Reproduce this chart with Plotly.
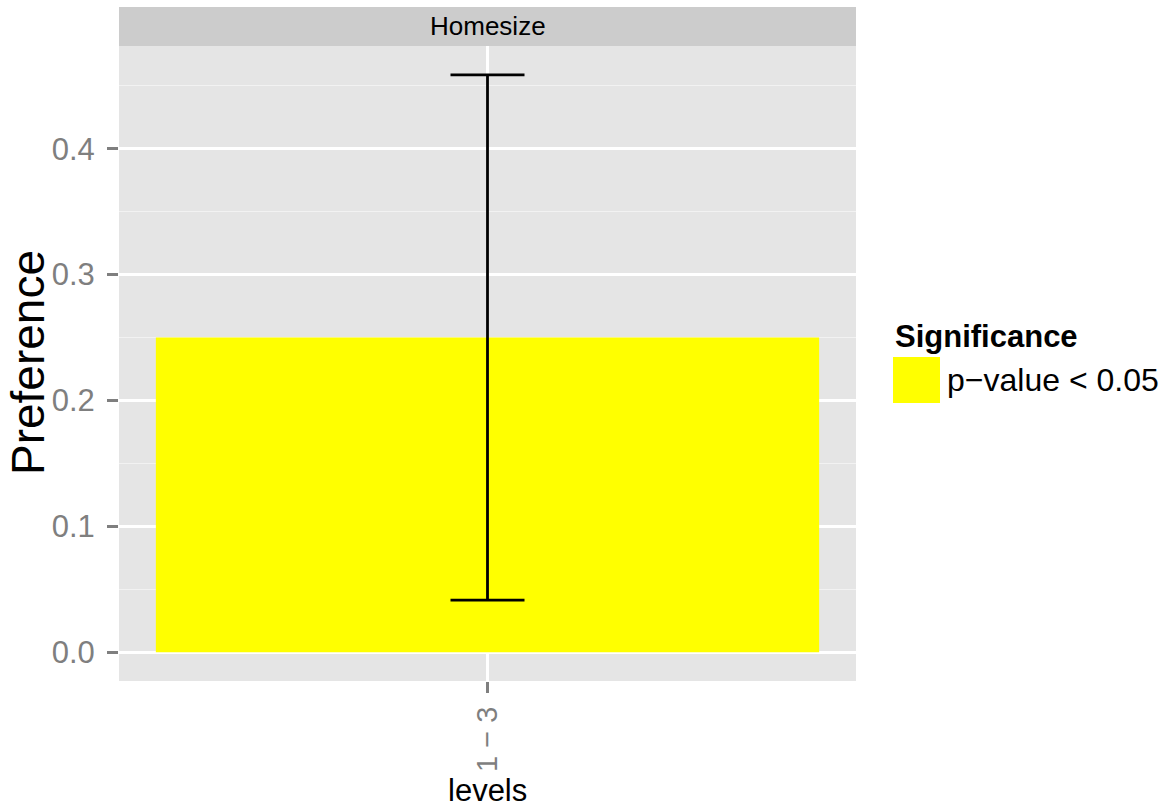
import plotly.graph_objects as go

# Data
levels = ["1 \u2212 3"]
preference = [0.25]
ci_low = [0.0413]
ci_high = [0.4587]
facet = "Homesize"
legend_title = "Significance"
legend_label = "p\u2212value < 0.05"
bar_color = "#FFFF00"

W, H = 1164, 811
L, R, T, B = 119, 856, 46, 681  # panel edges in pixels
FONT = "Liberation Sans, Arial, Helvetica, sans-serif"


def px_x(x):
    return (x - L) / (R - L)


def px_y(y):
    return (B - y) / (B - T)


err_plus = [h - v for h, v in zip(ci_high, preference)]
err_minus = [v - l for v, l in zip(preference, ci_low)]

fig = go.Figure()
fig.add_trace(go.Bar(
    x=levels, y=preference, width=0.9,
    marker=dict(color=bar_color, line=dict(width=0)),
    error_y=dict(type="data", symmetric=False, array=err_plus, arrayminus=err_minus,
                 color="black", thickness=2.8, width=37),
    name=legend_label, showlegend=False,
))

ymin = 0.0
ymax = max(ci_high)
pad = (ymax - ymin) * 0.05

fig.update_layout(
    width=W, height=H,
    margin=dict(l=L, r=W - R, t=T, b=H - B, pad=0),
    paper_bgcolor="white",
    plot_bgcolor="#E5E5E5",
    font=dict(family=FONT),
    showlegend=False,
    xaxis=dict(
        type="category", range=[-0.5, 0.5],
        showgrid=True, gridcolor="white", gridwidth=2.8,
        ticks="outside", ticklen=11, tickwidth=2.5, tickcolor="#7F7F7F",
        tickangle=-90, tickfont=dict(size=29, color="#7F7F7F", family=FONT),
        showline=False, zeroline=False, ticklabelstandoff=2,
    ),
    yaxis=dict(
        range=[ymin - pad, ymax + pad],
        tick0=0, dtick=0.1, tickformat=".1f",
        showgrid=True, gridcolor="white", gridwidth=2.8,
        minor=dict(dtick=0.05, tick0=0, showgrid=True, gridcolor="#F2F2F2", gridwidth=1.2),
        ticks="outside", ticklen=11, tickwidth=2.5, tickcolor="#7F7F7F",
        tickfont=dict(size=31, color="#7F7F7F", family=FONT),
        showline=False, zeroline=False, ticklabelstandoff=6,
    ),
)

# Facet strip
fig.add_shape(type="rect", xref="paper", yref="paper",
              x0=0, x1=1, y0=px_y(46), y1=px_y(7),
              fillcolor="#CCCCCC", line=dict(width=0), layer="below")
fig.add_annotation(text=facet, xref="paper", yref="paper", x=0.5, y=px_y(26.5),
                   xanchor="center", yanchor="middle", showarrow=False,
                   font=dict(size=26, color="black", family=FONT))

# Axis titles
fig.add_annotation(text="levels", xref="paper", yref="paper", x=0.5, y=px_y(790),
                   xanchor="center", yanchor="middle", showarrow=False,
                   font=dict(size=31, color="black", family=FONT))
fig.add_annotation(text="Preference", xref="paper", yref="paper", x=px_x(28), y=px_y(363),
                   xanchor="center", yanchor="middle", textangle=-90, showarrow=False,
                   font=dict(size=46, color="black", family=FONT))

# Legend
fig.add_annotation(text="<b>" + legend_title + "</b>", xref="paper", yref="paper",
                   x=px_x(893), y=px_y(336), xanchor="left", yanchor="middle", showarrow=False,
                   font=dict(size=31, color="black", family=FONT))
fig.add_shape(type="rect", xref="paper", yref="paper",
              x0=px_x(893), x1=px_x(940), y0=px_y(403), y1=px_y(357),
              fillcolor=bar_color, line=dict(width=0))
fig.add_annotation(text=legend_label, xref="paper", yref="paper",
                   x=px_x(945), y=px_y(380), xanchor="left", yanchor="middle", showarrow=False,
                   font=dict(size=32, color="black", family=FONT))

fig.write_html("out.html")
